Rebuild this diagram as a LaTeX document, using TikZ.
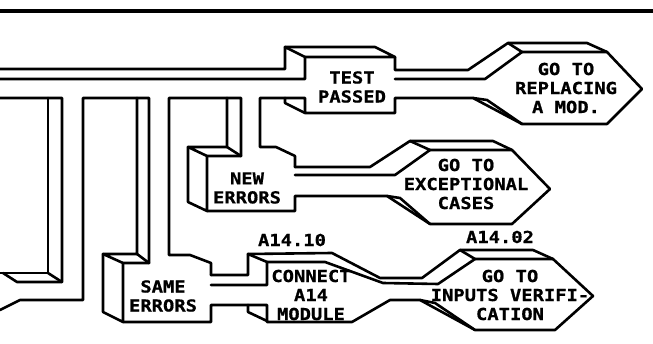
\documentclass[tikz,border=0pt]{standalone}
\usepackage{fontspec}
\newfontfamily\plotfont[FakeStretch=1.14,FakeBold=0.8]{DejaVu Sans Mono}
\usepackage{tikz}
\tikzset{
  edge/.style = {line width=2.6pt, line join=round, line cap=round},
  bar/.style  = {line width=3.8pt},
  txt/.style  = {font={\plotfont\bfseries\fontsize{16.5}{19}\selectfont},
                 align=center, inner sep=0pt},
}
\begin{document}
\begin{tikzpicture}[x=1pt, y=-1pt]
\useasboundingbox (0,0) rectangle (653,344);

\draw[bar] (0,11) -- (653,11);

\begin{scope}[edge]
% main pipe and the left branch
\draw (0,79) -- (305,79) -- (305,57) -- (285,47) -- (285,69) -- (0,69);
\draw (0,98) -- (62,98) -- (62,282) -- (17,282) -- (3,273);
\draw (0,273) -- (48,273) -- (48,98);
\draw (48,273) -- (62,282);
\draw (0,310) -- (20,300) -- (83,300) -- (83,98) -- (149,98) -- (149,263);
\draw (211,275) -- (211,263) -- (190,255) -- (169,255) -- (169,98) -- (241,98) -- (241,156);
\draw (295,167) -- (295,156) -- (276,147) -- (260,147) -- (260,98) -- (305,98)
      -- (305,113) -- (395,113) -- (395,98) -- (473,98) -- (522,124);

% test passed
\draw (305,57) -- (395,57) -- (375,47) -- (285,47);
\draw (285,98) -- (285,103) -- (305,113);
\draw (395,57) -- (395,70) -- (468,70) -- (508,43) -- (587,43) -- (607,52);
\draw (395,79) -- (485,79) -- (522,52) -- (508,43);
\draw (522,52) -- (607,52) -- (642,89) -- (607,124) -- (522,124);
\draw (473,98) -- (487,100) -- (522,124);

% new errors
\draw (227,98) -- (227,147) -- (241,156);
\draw (227,147) -- (188,147) -- (207,156) -- (241,156);
\draw (188,147) -- (188,202) -- (207,211) -- (207,156);
\draw (207,211) -- (295,211) -- (295,196) -- (387,196) -- (430,224) -- (512,224) -- (550,189);
\draw (295,167) -- (370,167) -- (410,141) -- (493,141) -- (512,150);
\draw (295,175) -- (395,175) -- (430,150) -- (410,141);
\draw (430,150) -- (512,150) -- (550,189);
\draw (387,196) -- (400,198) -- (430,224);

% same errors and connect
\draw (137,98) -- (137,254) -- (103,254) -- (123,263) -- (149,263);
\draw (137,254) -- (149,263);
\draw (103,254) -- (103,312) -- (123,322) -- (123,263);
\draw (123,322) -- (211,322) -- (211,305) -- (267,305) -- (267,322) -- (352,322)
      -- (390,300) -- (420,300) -- (475,330) -- (555,330) -- (593,296) -- (553,259) -- (475,259);
\draw (211,275) -- (248,275) -- (248,254) -- (267,262) -- (267,285) -- (211,285);
\draw (248,254) -- (332,253) -- (380,278) -- (422,278) -- (460,250) -- (533,250) -- (553,259);
\draw (267,262) -- (325,262) -- (383,283) -- (438,284) -- (475,259) -- (460,250);
\draw (248,305) -- (248,312) -- (267,321);
\draw (420,300) -- (435,303) -- (475,330);
\end{scope}

\node[txt] (test)    at (352,87)  {TEST\\PASSED};
\node[txt] (newerr)  at (247,188) {NEW\\ERRORS};
\node[txt] (sameerr) at (163,296) {SAME\\ERRORS};
\node[txt] (connect) at (311,295) {CONNECT\\A14\\MODULE};
\node[txt] (hexrepl) at (566,88)  {GO TO\\REPLACING\\A MOD.};
\node[txt] (hexexc)  at (466,184) {GO TO\\EXCEPTIONAL\\CASES};
\node[txt] (hexinp)  at (510,295) {GO TO\\INPUTS VERIFI-\\CATION};
\node[txt] (codeA)   at (292,240) {A14.10};
\node[txt] (codeB)   at (500,237) {A14.02};

\end{tikzpicture}
\end{document}
